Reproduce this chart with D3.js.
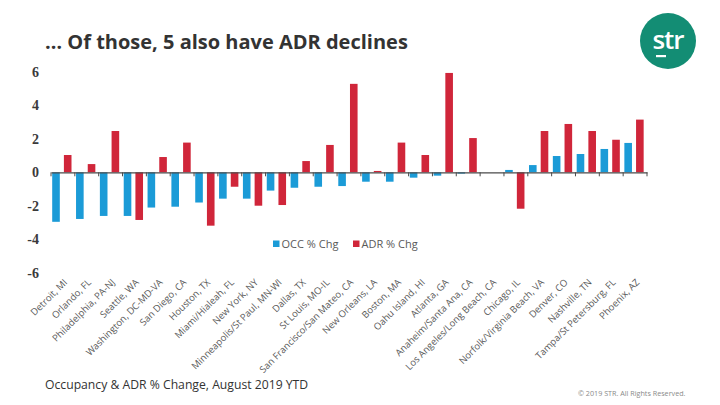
<!DOCTYPE html>
<html>
<head>
<meta charset="utf-8">
<script src="https://cdn.jsdelivr.net/npm/d3@7"></script>
<style>
  body { margin: 0; background: #fff; }
  svg { display: block; }
</style>
</head>
<body>
<svg id="chart" width="720" height="405"></svg>
<script>
const markets = [
  "Detroit, MI", "Orlando, FL", "Philadelphia, PA-NJ", "Seattle, WA",
  "Washington, DC-MD-VA", "San Diego, CA", "Houston, TX", "Miami/Hialeah, FL",
  "New York, NY", "Minneapolis/St Paul, MN-WI", "Dallas, TX", "St Louis, MO-IL",
  "San Francisco/San Mateo, CA", "New Orleans, LA", "Boston, MA", "Oahu Island, HI",
  "Atlanta, GA", "Anaheim/Santa Ana, CA", "Los Angeles/Long Beach, CA", "Chicago, IL",
  "Norfolk/Virginia Beach, VA", "Denver, CO", "Nashville, TN", "Tampa/St Petersburg, FL",
  "Phoenix, AZ"
];
const occChg = [
  -2.95, -2.78, -2.6, -2.6, -2.1, -2.05, -1.8, -1.57,
  -1.57, -1.09, -0.92, -0.86, -0.82, -0.56, -0.56, -0.32,
  -0.2, -0.08, 0.0, 0.14, 0.43, 0.97, 1.09, 1.39, 1.75
];
const adrChg = [
  1.03, 0.49, 2.46, -2.84, 0.91, 1.77, -3.18, -0.86,
  -1.99, -1.95, 0.67, 1.63, 5.27, 0.08, 1.77, 1.03,
  5.92, 2.04, 0.0, -2.17, 2.46, 2.88, 2.46, 1.94, 3.14
];
const seriesNames = ["OCC % Chg", "ADR % Chg"];
const yTicks = [-6, -4, -2, 0, 2, 4, 6];

const colors = { "OCC % Chg": "#1B9BD7", "ADR % Chg": "#D0263A" };

const svg = d3.select("#chart");

const x = d3.scaleBand().domain(markets).range([51, 647]).padding(0);
const x1 = d3.scaleBand().domain(seriesNames).range([1.2, 20.5]).paddingInner(0.35);
const y = d3.scaleLinear().domain([-6, 6]).range([273, 71.6]);

const rows = markets.map((m, i) => ({ market: m, values: [occChg[i], adrChg[i]] }));

// bars
const groups = svg.append("g")
  .selectAll("g")
  .data(rows)
  .join("g")
  .attr("transform", (d) => `translate(${x(d.market)},0)`);

groups.selectAll("rect")
  .data((d) => d.values.map((v, k) => ({ key: seriesNames[k], value: v })))
  .join("rect")
  .attr("x", (d) => x1(d.key))
  .attr("width", x1.bandwidth())
  .attr("y", (d) => y(Math.max(0, d.value)))
  .attr("height", (d) => Math.abs(y(d.value) - y(0)))
  .attr("fill", (d) => colors[d.key]);

// zero axis line with ticks at category boundaries
const zeroAxis = d3.axisBottom(x).tickSize(0).tickFormat("");
svg.append("g")
  .attr("transform", `translate(0,${y(0)})`)
  .call(zeroAxis)
  .call((g) => g.select(".domain").attr("stroke", "#4a4a4a").attr("stroke-width", 1.2));

const boundaries = markets.map((m) => x(m)).concat([x.range()[1]]);
svg.append("g")
  .selectAll("line")
  .data(boundaries)
  .join("line")
  .attr("x1", (d) => d)
  .attr("x2", (d) => d)
  .attr("y1", y(0))
  .attr("y2", y(0) + 4)
  .attr("stroke", "#4a4a4a")
  .attr("stroke-width", 1);

// y axis labels
const yAxis = d3.axisLeft(y).tickValues(yTicks).tickSize(0).tickPadding(0)
  .tickFormat((d) => d);
svg.append("g")
  .attr("transform", "translate(39,0)")
  .call(yAxis)
  .call((g) => g.select(".domain").remove())
  .call((g) => g.selectAll("text")
    .attr("font-family", "Liberation Serif, serif")
    .attr("font-size", 14)
    .attr("font-weight", "bold")
    .attr("fill", "#3a3a3a"));

// category labels at the bottom, rotated
svg.append("g")
  .selectAll("text")
  .data(markets)
  .join("text")
  .attr("transform", (d) => `translate(${x(d) + x.bandwidth() / 2 + 5},${283}) rotate(-45)`)
  .attr("text-anchor", "end")
  .attr("font-family", "Open Sans, sans-serif")
  .attr("font-size", 9.5)
  .attr("fill", "#595959")
  .text((d) => d);

// legend
const legend = svg.append("g").attr("transform", "translate(273,244)");
const legendItems = legend.selectAll("g")
  .data(seriesNames)
  .join("g")
  .attr("transform", (d, i) => `translate(${i * 80},0)`);
legendItems.append("rect")
  .attr("x", 0).attr("y", -3.5)
  .attr("width", 6.5).attr("height", 6.5)
  .attr("fill", (d) => colors[d]);
legendItems.append("text")
  .attr("x", 8.5).attr("y", 0)
  .attr("dy", "0.35em")
  .attr("font-family", "Open Sans, sans-serif")
  .attr("font-size", 11)
  .attr("fill", "#595959")
  .text((d) => d);

// title
svg.append("text")
  .attr("x", 45).attr("y", 49)
  .attr("font-family", "Open Sans, sans-serif")
  .attr("font-size", 20)
  .attr("font-weight", "bold")
  .attr("fill", "#333333")
  .text("… Of those, 5 also have ADR declines");

// footer
svg.append("text")
  .attr("x", 45).attr("y", 389)
  .attr("font-family", "Open Sans, sans-serif")
  .attr("font-size", 12.2)
  .attr("fill", "#333333")
  .text("Occupancy & ADR % Change, August 2019 YTD");

svg.append("text")
  .attr("x", 578).attr("y", 396)
  .attr("font-family", "Open Sans, sans-serif")
  .attr("font-size", 7.2)
  .attr("fill", "#8a8a8a")
  .text("© 2019 STR. All Rights Reserved.");

// logo
const logo = svg.append("g").attr("transform", "translate(668,41)");
logo.append("circle").attr("r", 28).attr("fill", "#138d74");
logo.append("text")
  .attr("x", 0).attr("y", 8)
  .attr("text-anchor", "middle")
  .attr("font-family", "Open Sans, sans-serif")
  .attr("font-size", 26)
  .attr("font-weight", "600")
  .attr("fill", "#ffffff")
  .attr("letter-spacing", -1)
  .text("str");
logo.append("rect")
  .attr("x", -12).attr("y", 14)
  .attr("width", 10).attr("height", 2.2)
  .attr("fill", "#ffffff");
</script>
</body>
</html>
